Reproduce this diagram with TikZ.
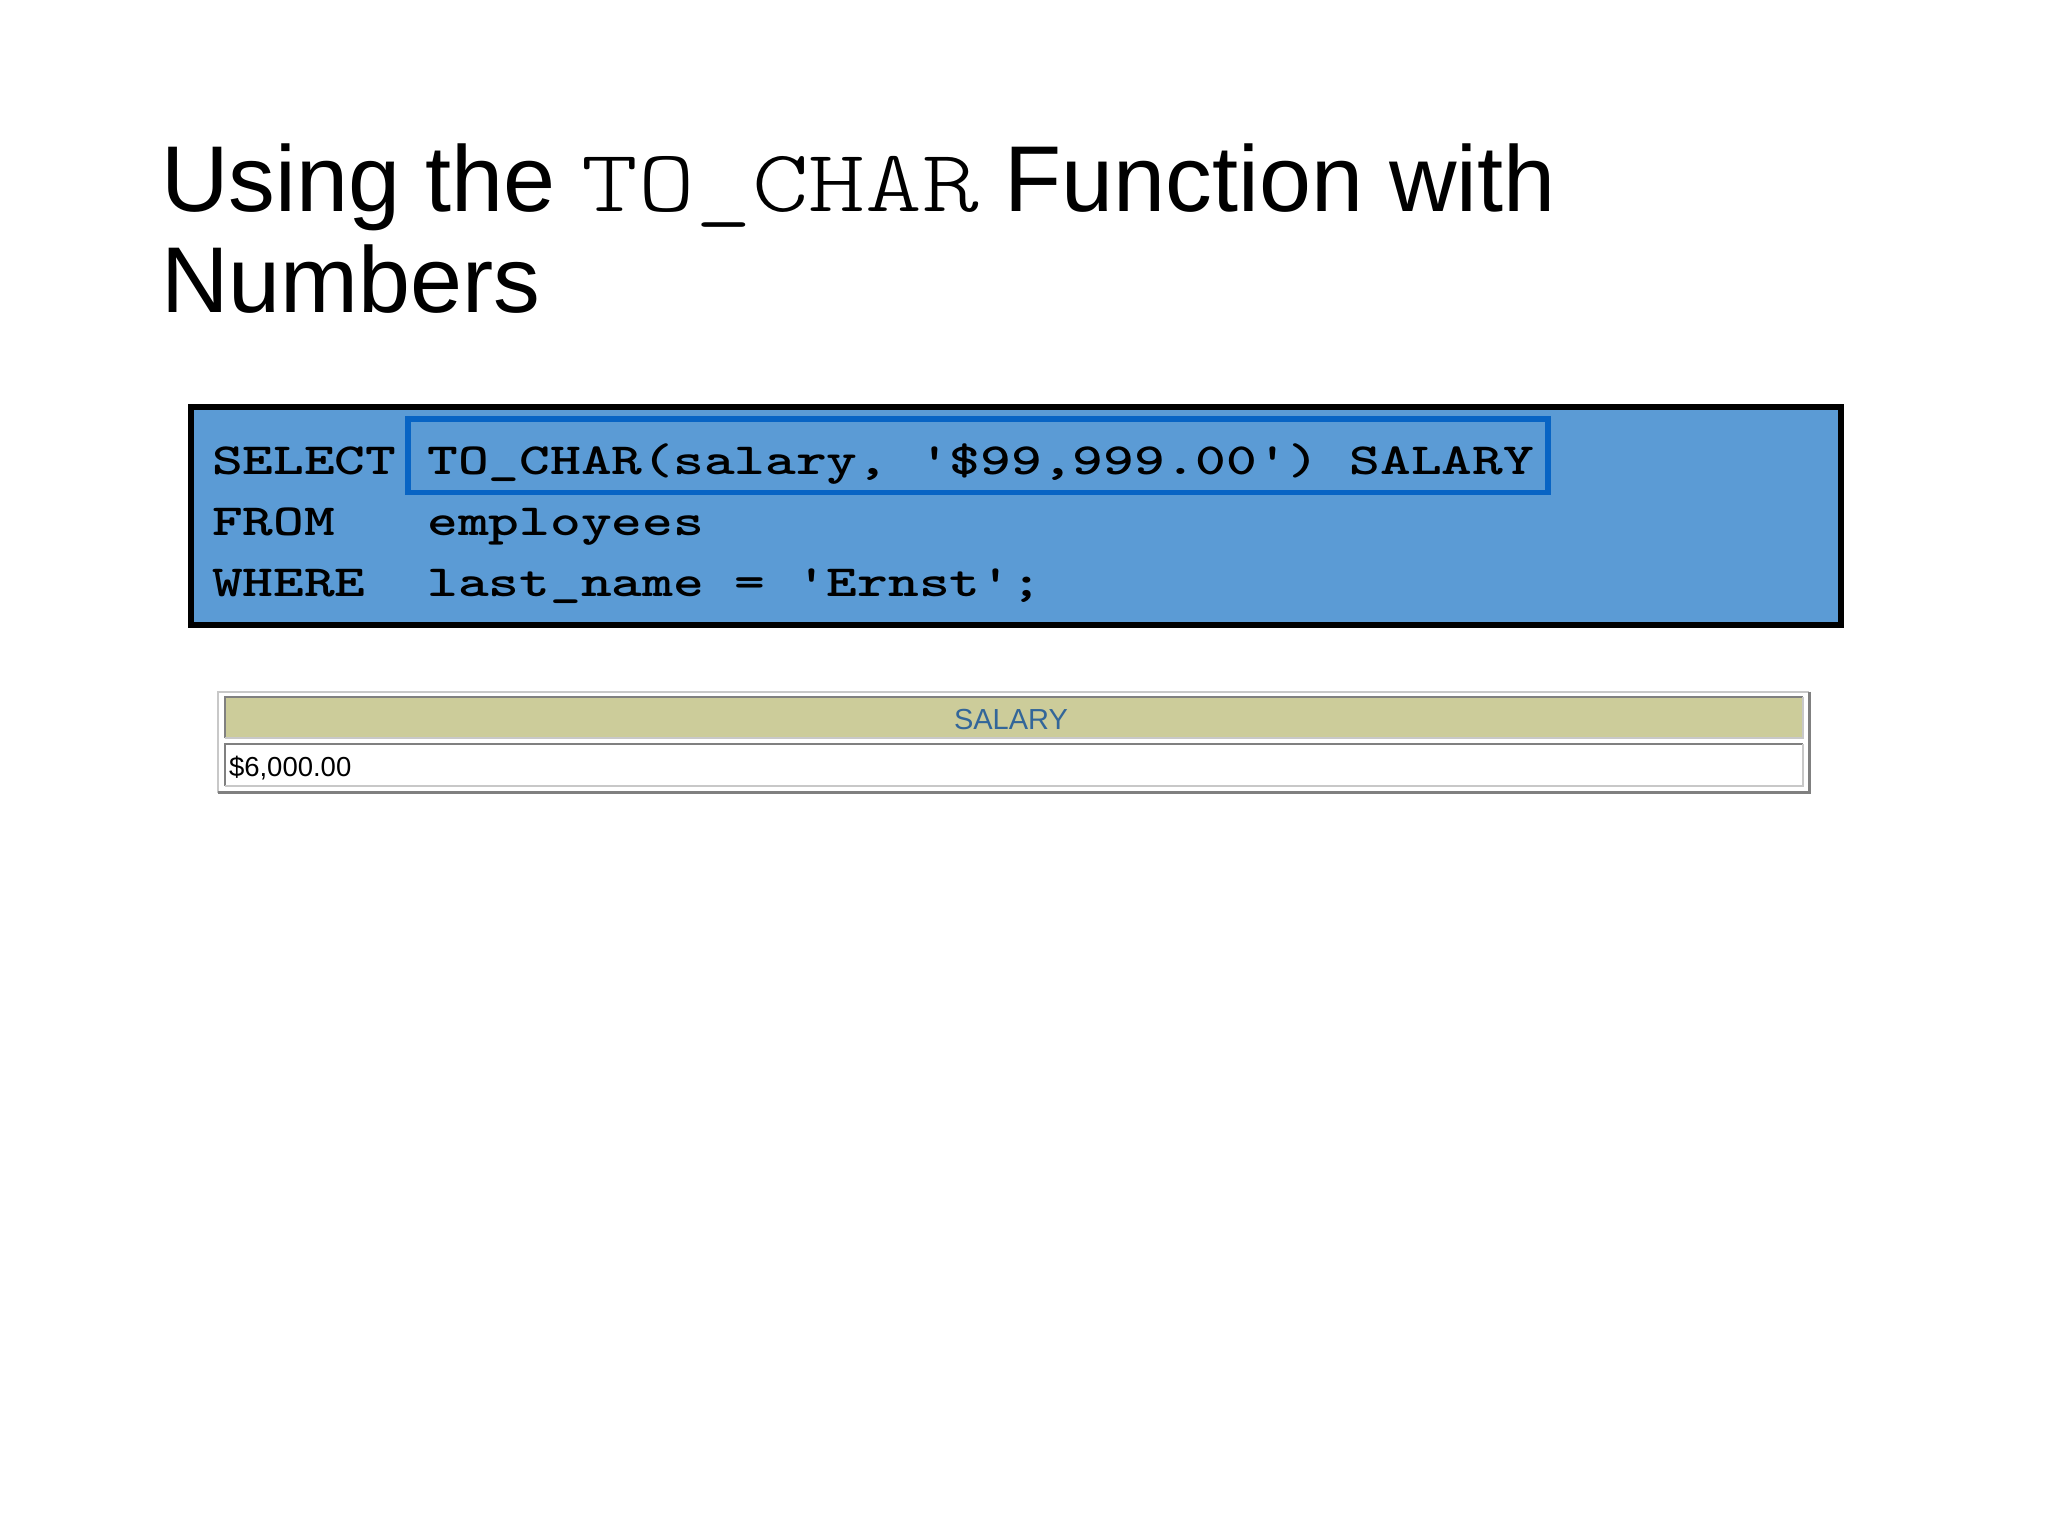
\documentclass[tikz,border=0pt]{standalone}
\usepackage{graphicx}
\usepackage{fontspec}
\newfontfamily\titlefont{Liberation Sans}
\newfontfamily\gridfont{Liberation Sans}
\definecolor{codefill}{RGB}{91,155,213}
\definecolor{hilite}{RGB}{8,100,196}
\definecolor{hdrfill}{RGB}{204,204,154}
\definecolor{hdrtext}{RGB}{51,102,153}
\definecolor{bevdark}{RGB}{128,128,128}
\definecolor{bevlight}{RGB}{200,200,200}
\newcommand{\codetxt}[1]{\scalebox{1.316}[1]{\fontsize{44.5}{44.5}\fontseries{b}\ttfamily #1}}
\newcommand{\tocharword}{\scalebox{1.22}[1]{\fontsize{88.5}{88.5}\fontseries{l}\ttfamily TO\_CHAR}}
\begin{document}
\begin{tikzpicture}[x=1pt,y=-1pt,
  plain/.style={inner sep=0pt, outer sep=0pt},
  codeword/.style={plain, anchor=base west},
  titleline/.style={plain, anchor=base west, font=\titlefont\fontsize{93.5}{93.5}\selectfont},
  bevelbox/.style={plain, anchor=north west, rectangle}]
\useasboundingbox[fill=white] (0,0) rectangle (2048,1536);

% title
\node[titleline] (title1) at (161,211.7) {Using the \tocharword\ Function with};
\node[titleline] (title2) at (161,312.7) {Numbers};

% SQL box
\node[bevelbox, draw=black, line width=6pt, fill=codefill,
      minimum width=1649.7pt, minimum height=217.7pt] (sqlbox) at (191.3,407) {};
\node[bevelbox, draw=hilite, line width=5.5pt,
      minimum width=1140.25pt, minimum height=73.5pt] (hlbox) at (407.75,418.75) {};

\node[codeword] (kw1) at (212,474) {\codetxt{SELECT}};
\node[codeword] (ex1) at (427.3,474) {\codetxt{TO\_CHAR(salary, \textquotesingle\$99,999.00\textquotesingle) SALARY}};
\node[codeword] (kw2) at (212,535) {\codetxt{FROM}};
\node[codeword] (ex2) at (427.3,535) {\codetxt{employees}};
\node[codeword] (kw3) at (212,596) {\codetxt{WHERE}};
\node[codeword] (ex3) at (427.3,596) {\codetxt{last\_name = \textquotesingle Ernst\textquotesingle;}};

% result grid
\node[bevelbox, minimum width=1591pt, minimum height=101pt] (grid) at (218.3,691.7) {};
\draw[bevlight, line width=2pt] (grid.south west) -- (grid.north west) -- (grid.north east);
\draw[bevdark, line width=2.5pt] (grid.north east) -- (grid.south east) -- (grid.south west);

\node[bevelbox, fill=hdrfill, minimum width=1577.7pt, minimum height=41pt] (hdr) at (225,697.3) {};
\draw[bevdark, line width=2pt] (hdr.south west) -- (hdr.north west) -- (hdr.north east);
\draw[bevlight, line width=2pt] (hdr.north east) -- (hdr.south east) -- (hdr.south west);

\node[bevelbox, fill=white, minimum width=1577.7pt, minimum height=41.7pt] (cell) at (225,744.3) {};
\draw[bevdark, line width=2pt] (cell.south west) -- (cell.north west) -- (cell.north east);
\draw[bevlight, line width=2pt] (cell.north east) -- (cell.south east) -- (cell.south west);

\node[plain, anchor=base, text=hdrtext, font=\gridfont\fontsize{29}{29}\selectfont] (hdrtxt) at (1011,729.5) {SALARY};
\node[plain, anchor=base west, font=\gridfont\fontsize{27.5}{27.5}\selectfont] (celltxt) at (229,776.5) {\$6,000.00};
\end{tikzpicture}
\end{document}
